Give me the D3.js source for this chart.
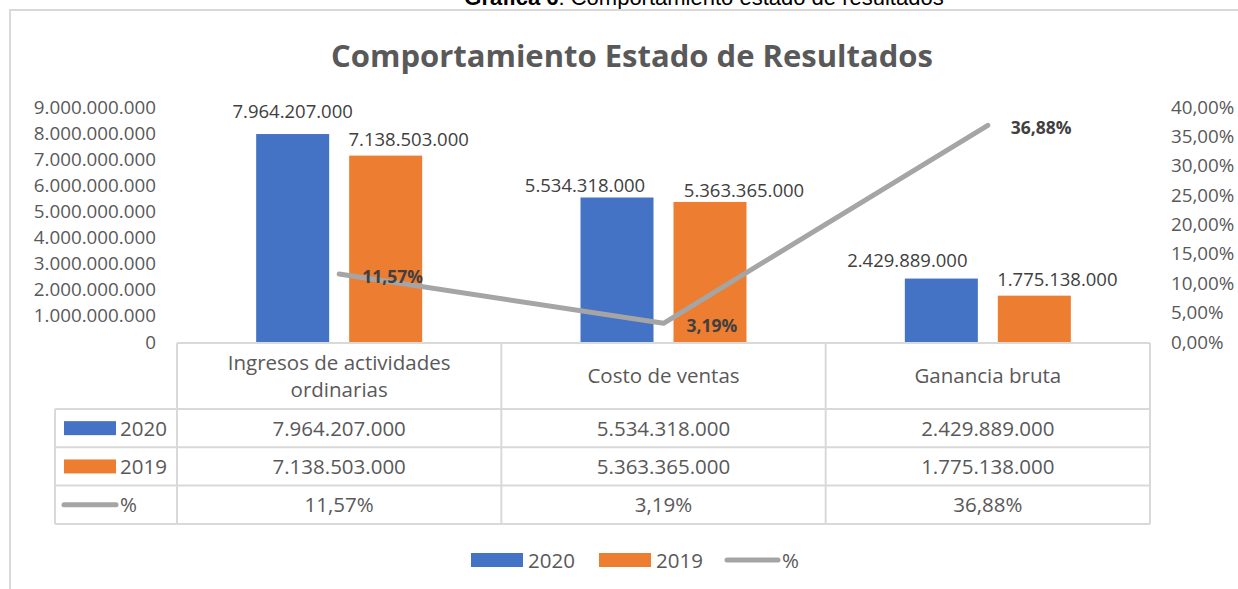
<!DOCTYPE html>
<html>
<head>
<meta charset="utf-8">
<script src="https://cdn.jsdelivr.net/npm/d3@7"></script>
<style>
  body { margin: 0; background: #fff; }
  svg text { font-family: "Open Sans", "Liberation Sans", sans-serif; }
</style>
</head>
<body>
<div id="chart"></div>
<script>
// data
var categories = ["Ingresos de actividades ordinarias", "Costo de ventas", "Ganancia bruta"];
var categoryLines = [["Ingresos de actividades", "ordinarias"], ["Costo de ventas"], ["Ganancia bruta"]];
var seriesNames = ["2020", "2019"];
var values2020 = [7964207000, 5534318000, 2429889000];
var values2019 = [7138503000, 5363365000, 1775138000];
var pctValues = [0.1157, 0.0319, 0.3688];
var leftTicks = [0, 1e9, 2e9, 3e9, 4e9, 5e9, 6e9, 7e9, 8e9, 9e9];
var rightTicks = [0, 0.05, 0.10, 0.15, 0.20, 0.25, 0.30, 0.35, 0.40];

// manual label shifts (as in the original, labels were dragged apart)
var labelNudge2020 = [[0, -6], [-32, 5], [-34, -2]];
var labelNudge2019 = [[23, 0], [34, 5], [23, 0]];

var colors = { "2020": "#4472c4", "2019": "#ed7d31", "%": "#a5a5a5" };

var W = 1238, H = 589;
var loc = d3.formatLocale({ decimal: ",", thousands: ".", grouping: [3], currency: ["$", ""] });
var fmtNum = loc.format(",.0f");
var fmtPct = loc.format(".2%");

var svg = d3.select("#chart").append("svg")
    .attr("width", W)
    .attr("height", H);

// caption above the chart (cut at the top in the original)
var cap = svg.append("text")
    .attr("x", 704)
    .attr("y", 5)
    .attr("text-anchor", "middle")
    .style("font-family", "'Liberation Sans', Arial, sans-serif")
    .style("font-size", "22px")
    .attr("fill", "#000");
cap.append("tspan").style("font-weight", "bold").text("Gráfica 6");
cap.append("tspan").text(": Comportamiento estado de resultados");

// chart frame
svg.append("path")
    .attr("d", "M10," + H + "V10H" + W)
    .attr("fill", "none")
    .attr("stroke", "#d9d9d9")
    .attr("stroke-width", 2);

svg.append("text")
    .attr("x", 632)
    .attr("y", 67)
    .attr("text-anchor", "middle")
    .attr("fill", "#595959")
    .style("font-size", "31px")
    .style("font-weight", "bold")
    .text("Comportamiento Estado de Resultados");

var plotLeft = 177, plotRight = 1150, plotTop = 107, plotBottom = 342;

var x = d3.scaleBand()
    .domain(categories)
    .range([plotLeft, plotRight])
    .padding(0);

var y = d3.scaleLinear()
    .domain([0, 9e9])
    .range([plotBottom, plotTop]);

var y2 = d3.scaleLinear()
    .domain([0, 0.40])
    .range([plotBottom, plotTop]);

var xs = d3.scaleBand()
    .domain(seriesNames)
    .range([-83, 83])
    .paddingInner(20 / 93)
    .paddingOuter(0);

// left axis
var leftAxis = svg.append("g")
    .attr("transform", "translate(156,0)")
    .call(d3.axisLeft(y).tickValues(leftTicks).tickFormat(fmtNum).tickSize(0).tickPadding(0));
leftAxis.select(".domain").remove();
leftAxis.selectAll("text")
    .attr("fill", "#595959")
    .style("font-size", "18.8px")
    .style("font-family", null);

// right axis
var rightAxis = svg.append("g")
    .attr("transform", "translate(1171,0)")
    .call(d3.axisRight(y2).tickValues(rightTicks).tickFormat(fmtPct).tickSize(0).tickPadding(0));
rightAxis.select(".domain").remove();
rightAxis.selectAll("text")
    .attr("fill", "#595959")
    .style("font-size", "18.8px")
    .style("font-family", null);

// bars
var barData = [];
categories.forEach(function(c, i) {
    barData.push({ cat: c, s: "2020", v: values2020[i], nudge: labelNudge2020[i] });
    barData.push({ cat: c, s: "2019", v: values2019[i], nudge: labelNudge2019[i] });
});

svg.append("g").selectAll("rect")
    .data(barData)
    .enter().append("rect")
    .attr("x", function(d) { return x(d.cat) + x.bandwidth() / 2 + xs(d.s); })
    .attr("y", function(d) { return y(d.v); })
    .attr("width", xs.bandwidth())
    .attr("height", function(d) { return plotBottom - y(d.v); })
    .attr("fill", function(d) { return colors[d.s]; });

svg.append("g").selectAll("text")
    .data(barData)
    .enter().append("text")
    .attr("x", function(d) { return x(d.cat) + x.bandwidth() / 2 + xs(d.s) + xs.bandwidth() / 2 + d.nudge[0]; })
    .attr("y", function(d) { return y(d.v) - 10 + d.nudge[1]; })
    .attr("text-anchor", "middle")
    .attr("fill", "#404040")
    .style("font-size", "18.5px")
    .text(function(d) { return fmtNum(d.v); });

// percent line
var line = d3.line()
    .x(function(d, i) { return x(categories[i]) + x.bandwidth() / 2; })
    .y(function(d) { return y2(d); });

svg.append("path")
    .datum(pctValues)
    .attr("d", line)
    .attr("fill", "none")
    .attr("stroke", colors["%"])
    .attr("stroke-width", 5)
    .attr("stroke-linecap", "round")
    .attr("stroke-linejoin", "round");

svg.append("g").selectAll("text")
    .data(pctValues)
    .enter().append("text")
    .attr("x", function(d, i) { return x(categories[i]) + x.bandwidth() / 2 + 23; })
    .attr("y", function(d) { return y2(d) + 9; })
    .attr("fill", "#404040")
    .style("font-size", "17.5px")
    .style("font-weight", "bold")
    .text(function(d) { return fmtPct(d); });

// data table
var headTop = 343, headBottom = 409, rowH = 38.3, tableLeft = 55;
var rows = [
    { key: "2020", vals: values2020.map(fmtNum) },
    { key: "2019", vals: values2019.map(fmtNum) },
    { key: "%", vals: pctValues.map(fmtPct) }
];
var tableBottom = headBottom + rows.length * rowH;
var grid = svg.append("g")
    .attr("stroke", "#d9d9d9")
    .attr("stroke-width", 2)
    .attr("fill", "none");

grid.append("line").attr("x1", plotLeft).attr("x2", plotRight).attr("y1", headTop).attr("y2", headTop);
d3.range(rows.length + 1).forEach(function(r) {
    var yy = headBottom + r * rowH;
    grid.append("line").attr("x1", tableLeft).attr("x2", plotRight).attr("y1", yy).attr("y2", yy);
});
grid.append("line").attr("x1", tableLeft).attr("x2", tableLeft).attr("y1", headBottom).attr("y2", tableBottom);
categories.forEach(function(c) {
    grid.append("line").attr("x1", x(c)).attr("x2", x(c)).attr("y1", headTop).attr("y2", tableBottom);
});
grid.append("line").attr("x1", plotRight).attr("x2", plotRight).attr("y1", headTop).attr("y2", tableBottom);

// header text
categories.forEach(function(c, i) {
    var lines = categoryLines[i];
    var cy = (headTop + headBottom) / 2;
    var t = svg.append("text")
        .attr("text-anchor", "middle")
        .attr("fill", "#595959")
        .style("font-size", "20.5px");
    lines.forEach(function(l, k) {
        t.append("tspan")
            .attr("x", x(c) + x.bandwidth() / 2)
            .attr("y", cy + 7 + (k - (lines.length - 1) / 2) * 27)
            .text(l);
    });
});

rows.forEach(function(r, ri) {
    var cy = headBottom + ri * rowH + rowH / 2;
    if (r.key === "%") {
        svg.append("line")
            .attr("x1", 64).attr("x2", 116)
            .attr("y1", cy).attr("y2", cy)
            .attr("stroke", colors["%"])
            .attr("stroke-width", 5)
            .attr("stroke-linecap", "round");
    } else {
        svg.append("rect")
            .attr("x", 64).attr("y", cy - 7)
            .attr("width", 52).attr("height", 14)
            .attr("fill", colors[r.key]);
    }
    svg.append("text")
        .attr("x", 120)
        .attr("y", cy + 7.5)
        .attr("fill", "#595959")
        .style("font-size", "20.5px")
        .text(r.key);
    r.vals.forEach(function(v, i) {
        svg.append("text")
            .attr("x", x(categories[i]) + x.bandwidth() / 2)
            .attr("y", cy + 7.5)
            .attr("text-anchor", "middle")
            .attr("fill", "#595959")
            .style("font-size", "20.5px")
            .text(v);
    });
});

// legend
var legendItems = [
    { key: "2020", x: 471 },
    { key: "2019", x: 599 },
    { key: "%", x: 725 }
];
var legend = svg.append("g");
legendItems.forEach(function(d) {
    if (d.key === "%") {
        legend.append("line")
            .attr("x1", d.x + 2).attr("x2", d.x + 53)
            .attr("y1", 560).attr("y2", 560)
            .attr("stroke", colors["%"])
            .attr("stroke-width", 5)
            .attr("stroke-linecap", "round");
    } else {
        legend.append("rect")
            .attr("x", d.x).attr("y", 553)
            .attr("width", 52).attr("height", 14)
            .attr("fill", colors[d.key]);
    }
    legend.append("text")
        .attr("x", d.x + 57)
        .attr("y", 567.5)
        .attr("fill", "#595959")
        .style("font-size", "20.5px")
        .text(d.key);
});
</script>
</body>
</html>
